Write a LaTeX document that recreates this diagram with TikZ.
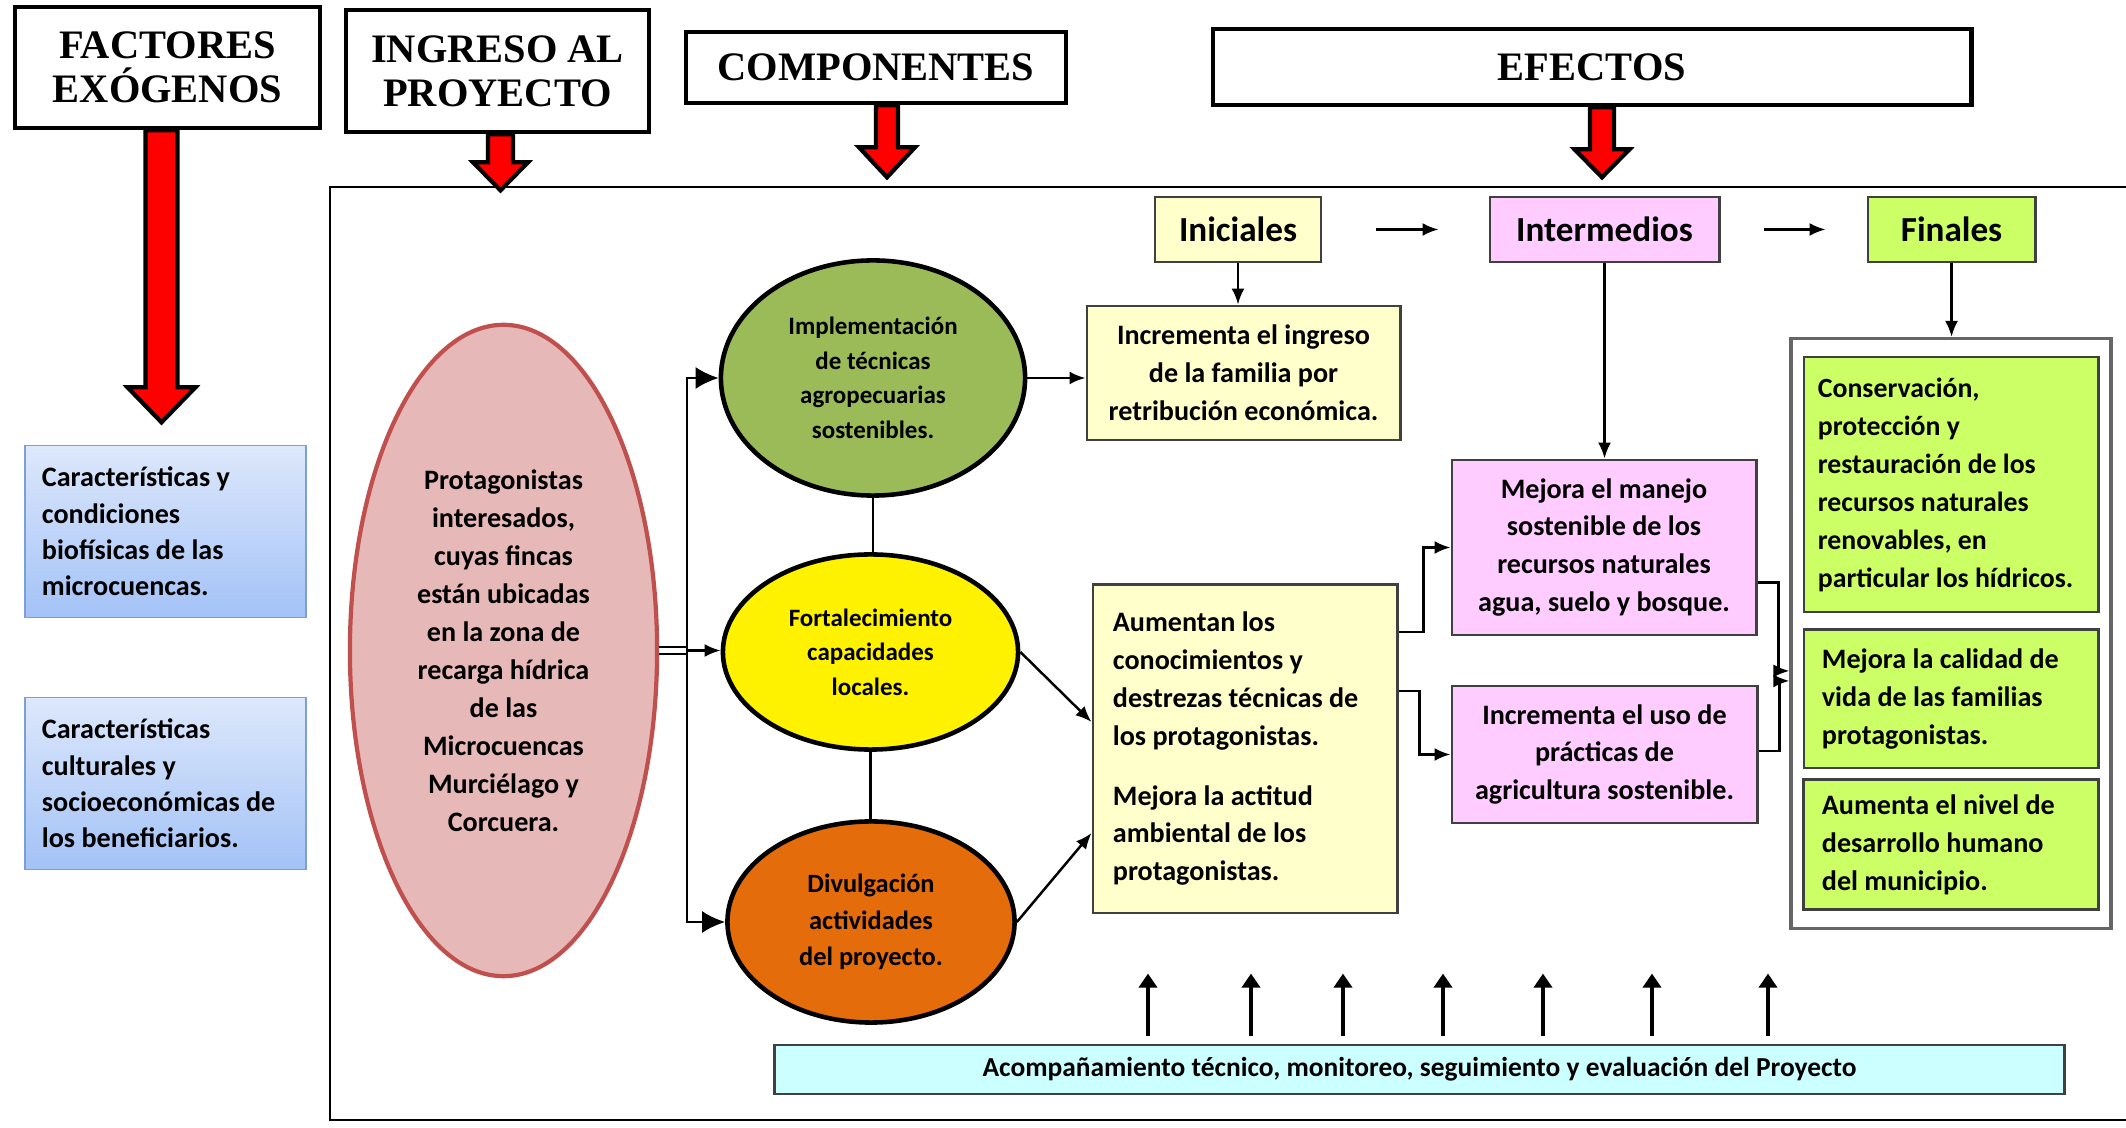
\documentclass[tikz,border=0pt]{standalone}
\usepackage{fontspec}
\setmainfont{Carlito}
\newfontfamily\headfont{Liberation Serif}
\usetikzlibrary{arrows.meta, positioning, shapes.geometric, fit}

\definecolor{exotop}{HTML}{DDE8FB}
\definecolor{exobot}{HTML}{A3C2F7}
\definecolor{exoline}{HTML}{7E9FD6}
\definecolor{protfill}{HTML}{E6B9B8}
\definecolor{protline}{HTML}{C0504D}
\definecolor{implfill}{HTML}{9BBB59}
\definecolor{divufill}{HTML}{E46C0A}
\definecolor{inifill}{HTML}{FFFFCC}
\definecolor{interfill}{HTML}{FFCCFF}
\definecolor{finfill}{HTML}{CCFF66}
\definecolor{acompfill}{HTML}{CCFFFF}
\definecolor{effline}{HTML}{404040}

% red block arrow: start, length, half shaft, half head, head length
\newcommand{\redarrow}[5]{%
  \filldraw[redblock] (#1) ++(-#3,0) -- ++(2*#3,0) -- ++(0,#2-#5) -- ++(#4-#3,0)
    -- ++(-#4,#5) -- ++(-#4,-#5) -- ++(#4-#3,0) -- cycle;}

\begin{document}
\begin{tikzpicture}[x=0.01cm, y=-0.01cm,
        head/.style={rectangle, draw=black, line width=1.3pt, fill=white, align=center,
                     inner sep=0pt, font=\headfont\bfseries\fontsize{11.5}{12.5}\selectfont},
        redblock/.style={fill=red, draw=black, line width=1.2pt},
        exo/.style={rectangle, draw=exoline, top color=exotop, bottom color=exobot,
                    minimum width=2.81cm, minimum height=1.72cm, text width=2.47cm,
                    inner sep=0pt, align=flush left, font=\bfseries\fontsize{8}{10.3}\selectfont},
        comp/.style={ellipse, draw=black, line width=1.3pt, inner sep=0pt, align=center,
                     font=\bfseries\fontsize{7.1}{9.8}\selectfont},
        eff/.style={rectangle, draw=effline, line width=0.8pt, inner sep=0pt, align=center,
                    font=\bfseries\fontsize{8}{10.8}\selectfont},
        effhead/.style={eff, minimum height=0.65cm, font=\bfseries\fontsize{10}{12}\selectfont},
        arr/.style={-{Latex[length=1.6mm,width=1.3mm]}, line width=0.7pt},
        bigarr/.style={-{Latex[length=2.3mm,width=2.2mm]}, line width=0.7pt},
        uparr/.style={-{Triangle[length=1.4mm,width=1.8mm]}, line width=1.4pt}]
  \useasboundingbox (0,0) rectangle (2126,1128);
  \draw[line width=0.8pt] (2126,187) -- (330,187) -- (330,1120) -- (2126,1120);

  \node[head, minimum width=3.05cm, minimum height=1.21cm] (fact) at (167.5,67.5) {FACTORES\\EXÓGENOS};
  \node[head, minimum width=3.03cm, minimum height=1.22cm] (ingr) at (497.5,71) {INGRESO AL\\PROYECTO};
  \node[head, minimum width=3.80cm, minimum height=0.71cm] (compo) at (876,67.5) {COMPONENTES};
  \node[head, minimum width=7.58cm, minimum height=0.76cm] (efec) at (1592,67) {EFECTOS};
  \redarrow{[xshift=-0.06cm]fact.south}{292}{16}{34}{35}
  \redarrow{[xshift=0.03cm]ingr.south}{56}{12.5}{27.5}{28}
  \redarrow{[xshift=0.11cm]compo.south}{72}{11}{28}{30}
  \redarrow{[xshift=0.1cm]efec.south}{70}{12}{27.5}{28}

  \node[exo] (bio) at (165.5,531.5) {Características y\\condiciones\\biofísicas de las\\microcuencas.};
  \node[exo] (soc) at (165.5,783.5) {Características\\culturales y\\socioeconómicas de\\los beneficiarios.};

  \node[ellipse, draw=protline, line width=1.2pt, fill=protfill, minimum width=3.07cm,
        minimum height=6.51cm, inner sep=0pt, align=center,
        font=\bfseries\fontsize{8}{10.8}\selectfont] (prot) at (503.5,650.5)
        {Protagonistas\\interesados,\\cuyas fincas\\están ubicadas\\en la zona de\\recarga hídrica\\de las\\Microcuencas\\Murciélago y\\Corcuera.};

  \node[comp, fill=implfill, minimum width=3.04cm, minimum height=2.35cm] (impl) at (873,378)
        {Implementación\\de técnicas\\agropecuarias\\sostenibles.};
  \node[comp, fill=yellow, minimum width=2.95cm, minimum height=1.95cm] (fort) at (870.5,652)
        {Fortalecimiento\\capacidades\\locales.};
  \node[comp, fill=divufill, minimum width=2.87cm, minimum height=2.01cm,
        font=\bfseries\fontsize{7.5}{10.3}\selectfont] (divu) at (871,922)
        {Divulgación\\actividades\\del proyecto.};

  \coordinate (trunk) at (687,650.5);
  \draw[double, double distance=1.3pt, line width=0.5pt] (prot.east) -- (trunk);
  \draw[bigarr] (trunk) |- (impl.west);
  \draw[arr] (trunk) -- (trunk -| fort.west);
  \draw[bigarr] (trunk) |- (divu.west);
  \draw[line width=0.7pt] (impl.south) -- (impl.south |- fort.north);
  \draw[line width=0.7pt] (fort.south) -- (fort.south |- divu.north);

  \node[effhead, fill=inifill, minimum width=1.66cm] (ini) at (1238,229.5) {Iniciales};
  \node[effhead, fill=interfill, minimum width=2.29cm, right=1.66cm of ini] (inter) {Intermedios};
  \node[effhead, fill=finfill, minimum width=1.67cm, right=1.46cm of inter] (fin) {Finales};

  \node[eff, fill=inifill, minimum width=3.13cm, minimum height=1.34cm] (ingre) at (1243.5,373)
        {Incrementa el ingreso\\de la familia por\\retribución económica.};
  \node[eff, fill=inifill, minimum width=3.04cm, minimum height=3.28cm, text width=2.64cm,
        align=flush left] (aumen) at (1245,749)
        {Aumentan los\\conocimientos y\\destrezas técnicas de\\los protagonistas.\\[6pt]Mejora la actitud\\ambiental de los\\protagonistas.\\[4pt]};
  \node[eff, fill=interfill, minimum width=3.04cm, minimum height=1.75cm] (manejo) at (1604,547.5)
        {Mejora el manejo\\sostenible de los\\recursos naturales\\agua, suelo y bosque.};
  \node[eff, fill=interfill, minimum width=3.05cm, minimum height=1.37cm] (uso) at (1604.5,754.5)
        {Incrementa el uso de\\prácticas de\\agricultura sostenible.};

  \node[eff, fill=finfill, minimum width=2.94cm, minimum height=2.55cm, text width=2.66cm,
        align=flush left, font=\bfseries\fontsize{7.9}{10.8}\selectfont] (cons) at (1951,484.5)
        {Conservación,\\protección y\\restauración de los\\recursos naturales\\renovables, en\\particular los hídricos.};
  \node[eff, fill=finfill, minimum width=2.94cm, minimum height=1.38cm, text width=2.58cm,
        align=flush left, below=0.15cm of cons] (calid)
        {Mejora la calidad de\\vida de las familias\\protagonistas.};
  \node[eff, fill=finfill, minimum width=2.95cm, minimum height=1.30cm, text width=2.58cm,
        align=flush left, below=0.09cm of calid] (nivel)
        {Aumenta el nivel de\\desarrollo humano\\del municipio.};
  \node[draw=gray!80!black, line width=0.9pt, inner xsep=0.11cm, inner ysep=0.17cm,
        fit=(cons)(calid)(nivel)] (fins) {};

  \draw[arr] (impl.east) -- (impl.east -| ingre.west);
  \draw[arr] (fort.east) -- ([yshift=0.27cm]aumen.west);
  \draw[arr] (divu.east) -- ([yshift=-0.84cm]aumen.west);
  \draw[arr, shorten <=0.54cm, shorten >=0.5cm] (ini) -- (inter);
  \draw[arr, shorten <=0.43cm, shorten >=0.41cm] (inter) -- (fin);
  \draw[arr] (ini.south) -- (ini.south |- ingre.north);
  \draw[arr] (inter.south) -- (inter.south |- manejo.north);
  \draw[arr] (fin.south) -- (fin.south |- fins.north);
  \draw[arr] ([yshift=1.17cm]aumen.east) -- ++(25,0) |- (manejo.west);
  \draw[arr] ([yshift=0.58cm]aumen.east) -- ++(21,0) |- (uso.west);
  \draw[arr] ([yshift=-0.35cm]manejo.east) -- ++(21,0) |- ([yshift=-0.375cm]fins.west);
  \draw[arr] ([yshift=0.035cm]uso.east) -- ++(21,0) |- ([yshift=-0.475cm]fins.west);

  \node[eff, fill=acompfill, minimum width=12.89cm, minimum height=0.49cm,
        font=\bfseries\fontsize{7.8}{9}\selectfont] (acomp) at (1419.5,1069.5)
        {Acompañamiento técnico, monitoreo, seguimiento y evaluación del Proyecto};
  \foreach \ux in {1148,1251,1343,1443,1543,1652,1768}
    \draw[uparr] (acomp.north -| \ux,0) ++(0,-8) -- ++(0,-62);
\end{tikzpicture}
\end{document}
